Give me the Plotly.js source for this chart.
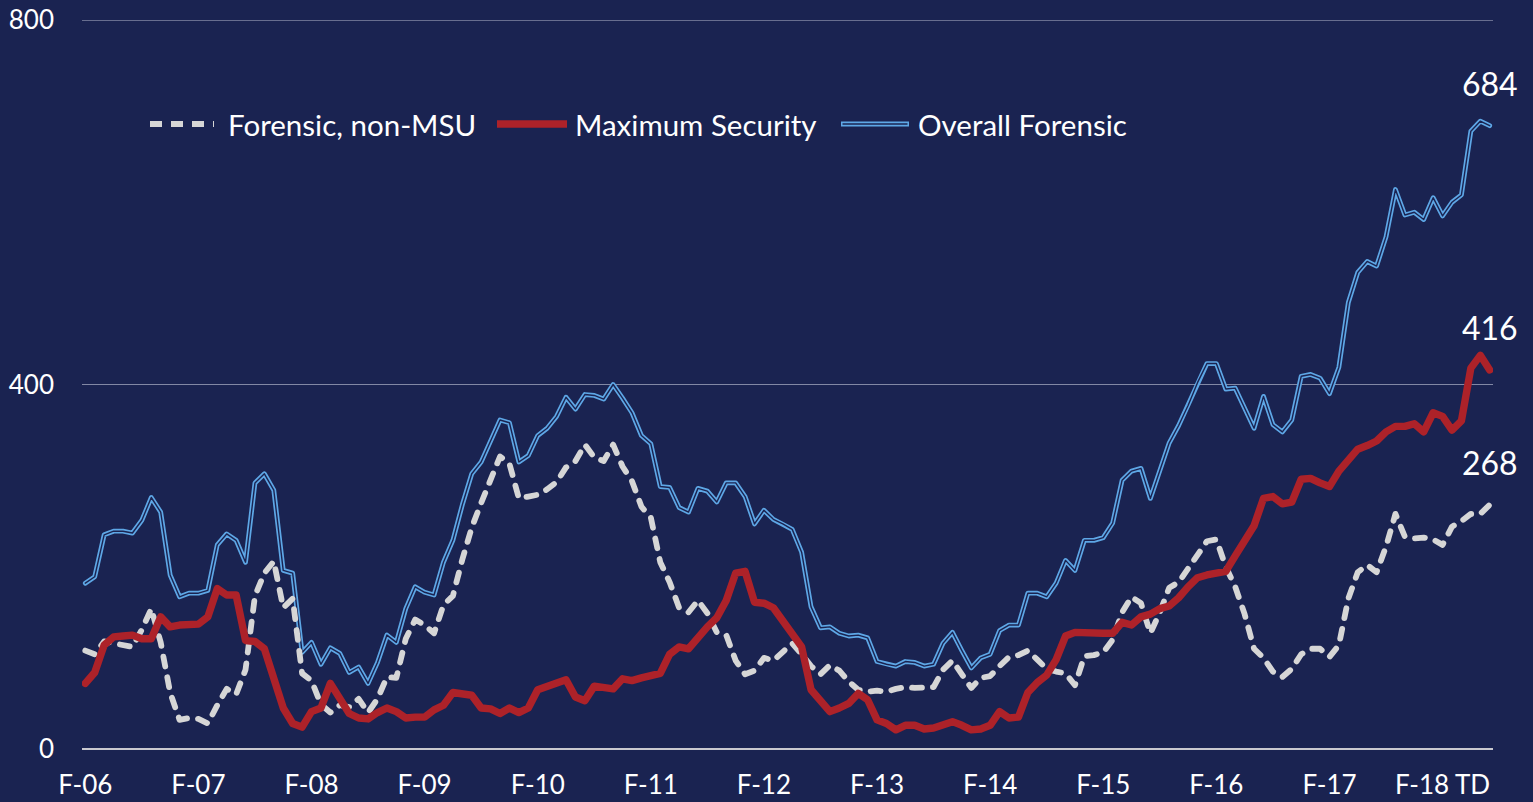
<!DOCTYPE html>
<html><head><meta charset="utf-8">
<script src="https://cdn.plot.ly/plotly-3.0.1.min.js"></script>
<style>
html,body{margin:0;padding:0;background:#1a2351;}
#chart{width:1533px;height:802px;}
.scatterlayer .js-line{stroke-linecap:round;stroke-linejoin:round;}
</style></head>
<body><div id="chart"></div>
<script>
// Monthly census, F-06 through F-18 to date (150 months)
const tickLabels = ['F-06','F-07','F-08','F-09','F-10','F-11','F-12','F-13','F-14','F-15','F-16','F-17','F-18 TD'];

const overallForensic = [
 182,189,235,239,239,237,251,276,260,191,
 167,171,171,174,224,236,229,205,292,302,
 284,196,193,106,117,93,111,105,84,90,
 72,95,125,117,154,178,172,169,205,229,
 268,302,315,338,361,358,315,322,344,352,
 365,386,373,389,388,384,400,385,369,344,
 335,288,287,265,260,286,283,271,292,292,
 277,247,262,252,247,241,216,156,133,134,
 127,124,125,122,96,93,91,96,95,91,
 93,116,128,108,89,100,104,130,136,136,
 171,171,167,182,207,196,229,229,232,248,
 295,305,308,275,306,336,355,377,402,423,
 423,395,396,374,352,387,356,348,361,409,
 411,407,390,419,490,523,535,530,562,614,
 586,589,581,605,585,600,608,678,689,684];

const maximumSecurity = [
 72,84,114,123,124,125,121,121,145,134,
 136,136,137,145,176,169,169,119,118,110,
 76,45,28,24,41,45,72,56,39,34,
 33,40,45,41,34,35,35,43,48,62,
 61,59,45,44,39,45,40,45,65,68,
 73,76,57,53,69,68,66,77,75,78,
 81,83,104,112,110,123,134,144,163,193,
 195,161,160,155,141,125,112,65,52,41,
 45,50,61,54,32,28,21,26,26,22,
 23,27,30,26,21,22,26,41,34,35,
 62,73,81,98,124,128,127,127,127,127,
 139,136,145,148,154,157,166,178,188,191,
 192,195,212,230,245,275,277,269,271,296,
 297,292,288,305,317,329,333,338,348,354,
 354,357,348,369,365,350,360,418,432,416];

const forensicNonMSU = [
 108,104,118,116,115,112,131,154,117,62,
 32,34,33,28,48,66,60,87,168,193,
 206,155,165,83,75,49,40,48,46,55,
 40,55,79,78,121,142,136,127,158,168,
 208,243,270,294,321,313,275,277,279,285,
 293,309,316,334,320,316,334,310,294,266,
 254,205,183,155,150,163,149,128,125,97,
 82,86,100,97,106,116,104,91,82,92,
 86,74,65,63,64,63,66,68,67,67,
 68,87,97,82,67,78,80,91,101,103,
 108,98,88,85,83,70,102,103,106,120,
 150,167,160,127,150,177,183,198,213,228,
 230,200,178,148,110,100,85,79,88,104,
 110,110,101,114,165,194,202,194,222,258,
 233,231,232,230,224,244,250,258,258,268];

const seriesNames = ['Forensic, non-MSU','Maximum Security','Overall Forensic'];
const yTicks = [0, 400, 800];

const BG = '#1a2351';
const GRAY = '#d6d6d6', RED = '#ad2229', BLUE = '#5ea7e6';
const GRID = 'rgba(200,204,222,0.6)';
const FONT = 'Lato, "Open Sans", sans-serif';

const x = overallForensic.map((_, i) => i);
const tickvals = tickLabels.map((_, i) => i * 12);

const traces = [
  {x, y: overallForensic, type:'scatter', mode:'lines', name: seriesNames[2],
   line:{color:BLUE, width:4.8}, showlegend:false, hoverinfo:'skip'},
  {x, y: overallForensic, type:'scatter', mode:'lines', name: seriesNames[2] + ' core',
   line:{color:BG, width:1.4}, showlegend:false, hoverinfo:'skip'},
  {x, y: forensicNonMSU, type:'scatter', mode:'lines', name: seriesNames[0],
   line:{color:GRAY, width:5.8, dash:'10px,11px'}, showlegend:false},
  {x, y: maximumSecurity, type:'scatter', mode:'lines', name: seriesNames[1],
   line:{color:RED, width:7.4}, showlegend:false}
];

// Manual legend (paper coordinates) to reproduce the double-line swatch
const PX0 = 82, PW = 1411, PY0 = 749, PH = 729;
const px = v => (v - PX0) / PW;
const py = v => (PY0 - v) / PH;
const legY = py(124);
const legendItems = [
  {x0:150, x1:214, tx:226, text:seriesNames[0], kind:'dash'},
  {x0:497, x1:567, tx:573, text:seriesNames[1], kind:'red'},
  {x0:841, x1:909, tx:916, text:seriesNames[2], kind:'double'}
];
const shapes = [
  // top gridline at the axis maximum
  {type:'line', xref:'paper', yref:'y', x0:0, x1:1, y0:yTicks[2], y1:yTicks[2], line:{color:GRID, width:1.5}}
];
const annotations = [];
legendItems.forEach(it => {
  if (it.kind === 'dash') {
    shapes.push({type:'line', xref:'paper', yref:'paper', x0:px(it.x0), x1:px(it.x1), y0:legY, y1:legY,
      line:{color:GRAY, width:5.8, dash:'12px,9px'}});
  } else if (it.kind === 'red') {
    shapes.push({type:'line', xref:'paper', yref:'paper', x0:px(it.x0), x1:px(it.x1), y0:legY, y1:legY,
      line:{color:RED, width:7.4}});
  } else {
    shapes.push({type:'line', xref:'paper', yref:'paper', x0:px(it.x0), x1:px(it.x1), y0:legY, y1:legY,
      line:{color:BLUE, width:4.8}});
    shapes.push({type:'line', xref:'paper', yref:'paper', x0:px(it.x0+1.5), x1:px(it.x1-1.5), y0:legY, y1:legY,
      line:{color:BG, width:1.4}});
  }
  annotations.push({xref:'paper', yref:'paper', x:px(it.tx), y:legY, xanchor:'left', yanchor:'middle',
    text:it.text, showarrow:false, font:{family:FONT, size:29.5, color:'#ffffff'}});
});

// End-value labels
[overallForensic, maximumSecurity, forensicNonMSU].forEach(arr => {
  const last = arr.length - 1;
  annotations.push({x:last, y:arr[last], xref:'x', yref:'y', text:String(arr[last]),
    showarrow:false, xanchor:'center', yanchor:'bottom', yshift:21,
    font:{family:FONT, size:32, color:'#ffffff'}});
});

const layout = {
  width:1533, height:802,
  paper_bgcolor:BG, plot_bgcolor:BG,
  margin:{l:82, r:40, t:20, b:53},
  showlegend:false,
  font:{family:FONT, color:'#ffffff'},
  xaxis:{range:[-0.35, 149.35], tickvals, ticktext:tickLabels, showgrid:false, zeroline:false,
    showline:false, ticks:'', tickfont:{family:FONT, size:26, color:'#ffffff'}, ticklabelstandoff:18,
    fixedrange:true},
  yaxis:{range:[0,800], tickvals:yTicks, showgrid:true, gridcolor:GRID, gridwidth:1.5,
    zeroline:true, zerolinecolor:'#c9c9cf', zerolinewidth:2.5, showline:false, ticks:'',
    tickfont:{family:FONT, size:26, color:'#ffffff'}, ticklabelstandoff:27, fixedrange:true},
  shapes, annotations
};

Plotly.newPlot('chart', traces, layout, {staticPlot:true, displayModeBar:false});
</script>
</body></html>
